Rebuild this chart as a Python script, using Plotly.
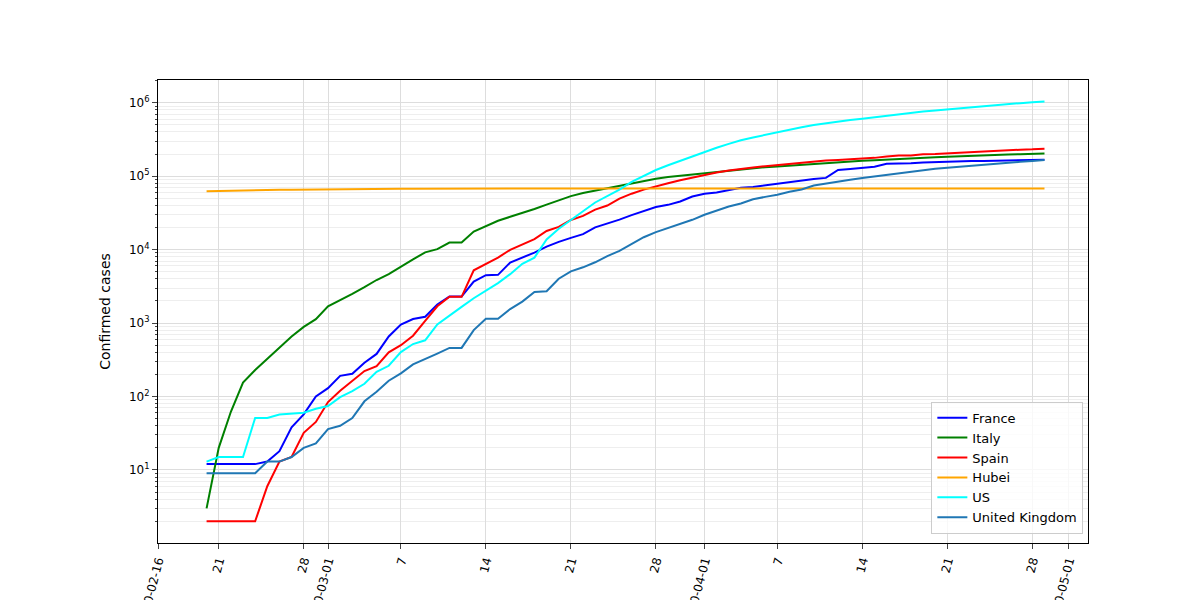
import pandas as pd
import plotly.graph_objects as go

dates = pd.date_range("2020-02-20", "2020-04-29", freq="D")

france = [12, 12, 12, 12, 12, 13, 18, 38, 57, 100, 130, 191, 204, 288, 380, 656, 957, 1136, 1219, 1794,
          2293, 2293, 3681, 4496, 4532, 6683, 7715, 9124, 10970, 12758, 14463, 16243, 20123, 22622, 25600,
          29551, 33402, 38105, 40708, 45170, 52827, 57749, 59929, 65202, 69500, 71412, 75343, 79163, 83057,
          87366, 91738, 94863, 121712, 125394, 131361, 134582, 147969, 148464, 150000, 154188, 156480,
          159297, 160109, 160847, 161500, 162200, 163300, 164400, 166543, 167299]
italy = [3, 20, 62, 155, 229, 322, 453, 655, 888, 1128, 1694, 2036, 2502, 3089, 3858, 4636, 5883, 7375,
         9172, 10149, 12462, 12462, 17660, 21157, 24747, 27980, 31506, 35713, 41035, 47021, 53578, 59138,
         63927, 69176, 74386, 80589, 86498, 92472, 97689, 101739, 105792, 110574, 115242, 119827, 124632,
         128948, 132547, 135586, 139422, 143626, 147577, 152271, 156363, 159516, 162488, 165155, 168941,
         172434, 175925, 178972, 181228, 183957, 187327, 189973, 192994, 195351, 197675, 199414, 201505,
         203591]
spain = [2, 2, 2, 2, 2, 6, 13, 15, 32, 45, 84, 120, 165, 222, 259, 400, 500, 673, 1073, 1695, 2277,
         2277, 5232, 6391, 7798, 9942, 11748, 13910, 17963, 20410, 25374, 28768, 35136, 39885, 49515,
         57786, 65719, 73235, 80110, 87956, 95923, 104118, 112065, 119199, 126168, 131646, 136675, 141942,
         148220, 153222, 158273, 163027, 166831, 170099, 172541, 177644, 184948, 190839, 191726, 198674,
         200210, 204178, 208389, 213024, 219764, 223759, 226629, 229422, 232128, 236899]
hubei = [62442, 62662, 64084, 64084, 64287, 64786, 65187, 65596, 65914, 66337, 66907, 67103, 67217,
         67332, 67466, 67592, 67666, 67707, 67743, 67760, 67773, 67781, 67786, 67790, 67794, 67798, 67799,
         67800, 67800, 67800, 67800, 67800, 67800, 67801, 67801, 67801, 67801, 67801, 67801, 67801, 67801,
         67802, 67802, 67802, 67802, 67803, 67803, 67803, 67803, 67803, 67803, 67803, 67803, 67803, 67803,
         67803, 67803, 68128, 68128, 68128, 68128, 68128, 68128, 68128, 68128, 68128, 68128, 68128, 68128,
         68128]
us = [13, 15, 15, 15, 51, 51, 57, 58, 60, 68, 74, 98, 118, 149, 217, 262, 402, 518, 583, 959, 1281,
      1663, 2179, 2727, 3499, 4632, 6421, 7783, 13747, 19273, 25600, 33276, 43847, 53740, 65778, 83836,
      101657, 121465, 140909, 161831, 188172, 213242, 243622, 275367, 308650, 336802, 366317, 397121,
      428654, 462780, 496535, 526396, 555313, 580619, 607670, 636350, 667592, 699706, 732197, 759086,
      784326, 811865, 840351, 869170, 905358, 938154, 965785, 988197, 1012582, 1039909]
uk = [9, 9, 9, 9, 9, 13, 13, 15, 20, 23, 36, 40, 51, 86, 116, 164, 207, 274, 322, 384, 459, 459, 802,
      1144, 1145, 1551, 1960, 2642, 2716, 4014, 5067, 5745, 6726, 8164, 9640, 11812, 14745, 17312, 19780,
      22453, 25481, 29865, 34173, 38689, 42477, 48436, 52279, 55949, 61474, 65872, 74605, 79874, 85206,
      89570, 94845, 99483, 104145, 109769, 115314, 121172, 125856, 130172, 134638, 139246, 144640,
      149569, 153000, 157000, 161000, 166000]

series = [("France", france, "blue"), ("Italy", italy, "green"), ("Spain", spain, "red"),
          ("Hubei", hubei, "orange"), ("US", us, "cyan"), ("United Kingdom", uk, "#1f77b4")]

tick_dates = ["2020-02-16", "2020-02-21", "2020-02-28", "2020-03-01", "2020-03-07", "2020-03-14",
              "2020-03-21", "2020-03-28", "2020-04-01", "2020-04-07", "2020-04-14", "2020-04-21",
              "2020-04-28", "2020-05-01"]
tick_text = ["2020-02-16", "21", "28", "2020-03-01", "7", "14", "21", "28", "2020-04-01", "7", "14",
             "21", "28", "2020-05-01"]

y_ticks = [10, 100, 1000, 10000, 100000, 1000000]
y_text = ["10<sup>1</sup>", "10<sup>2</sup>", "10<sup>3</sup>", "10<sup>4</sup>", "10<sup>5</sup>",
          "10<sup>6</sup>"]

fig = go.Figure()
for name, vals, col in series:
    fig.add_trace(go.Scatter(x=dates, y=vals, name=name, mode="lines", line=dict(color=col, width=2)))

fig.update_layout(
    width=1200, height=600, plot_bgcolor="white", paper_bgcolor="white",
    margin=dict(l=150, r=120, t=72, b=65),
    font=dict(family="DejaVu Sans", size=12, color="black"),
    legend=dict(x=0.995, y=0.02, xanchor="right", yanchor="bottom", bordercolor="#cccccc",
                borderwidth=1, bgcolor="rgba(255,255,255,0.8)", font=dict(size=13)),
)
fig.update_xaxes(range=["2020-02-16", "2020-05-02 14:00"], tickvals=tick_dates, ticktext=tick_text,
                 tickangle=-75, automargin=False, showline=True, mirror=True, linecolor="black",
                 ticks="outside", showgrid=True, gridcolor="#dddddd")
fig.update_yaxes(type="log", range=[0.005, 6.31], tickvals=y_ticks, ticktext=y_text,
                 title_text="Confirmed cases", automargin=False, showline=True, mirror=True,
                 linecolor="black", ticks="outside", showgrid=True, gridcolor="#dddddd",
                 minor=dict(showgrid=True, gridcolor="#eeeeee", ticks="outside", ticklen=2,
                            dtick="D1"))

fig.write_html("out.html")
